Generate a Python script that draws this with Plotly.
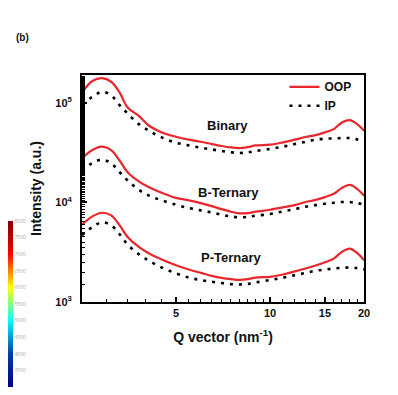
import math
import plotly.graph_objects as go

q = [2.5, 2.7, 2.9, 3.1, 3.3, 3.5, 3.8, 4.1, 4.5, 5, 5.5, 6, 6.5, 7, 7.5, 8, 8.5, 9,
     10, 11, 12, 13, 14, 15, 16, 17, 18, 19, 20]

binary_oop = [1.27e5, 1.66e5, 1.77e5, 1.63e5, 1.27e5, 8.98e4, 7.41e4, 5.89e4, 5.05e4, 4.57e4,
              4.27e4, 4.07e4, 3.86e4, 3.69e4, 3.57e4, 3.52e4, 3.60e4, 3.74e4, 3.80e4, 4.01e4,
              4.27e4, 4.54e4, 4.75e4, 5.05e4, 5.45e4, 6.36e4, 6.71e4, 6.12e4, 5.25e4]
binary_ip = [9.7e4, 1.15e5, 1.29e5, 1.19e5, 9.48e4, 7.82e4, 6.12e4, 5.25e4, 4.50e4, 3.98e4,
             3.74e4, 3.55e4, 3.41e4, 3.29e4, 3.19e4, 3.14e4, 3.19e4, 3.29e4, 3.44e4, 3.63e4,
             3.86e4, 4.07e4, 4.27e4, 4.37e4, 4.40e4, 4.43e4, 4.43e4, 4.30e4, 4.10e4]
bter_oop = [2.77e4, 3.36e4, 3.63e4, 3.36e4, 2.63e4, 2.01e4, 1.63e4, 1.42e4, 1.25e4, 1.11e4,
            1.05e4, 9.85e3, 9.19e3, 8.57e3, 8.07e3, 7.76e3, 7.82e3, 8.07e3, 8.45e3, 8.91e3,
            9.40e3, 1.01e4, 1.06e4, 1.13e4, 1.22e4, 1.40e4, 1.50e4, 1.37e4, 1.17e4]
bter_ip = [2.09e4, 2.49e4, 2.69e4, 2.47e4, 2.01e4, 1.66e4, 1.34e4, 1.17e4, 1.05e4, 9.48e3,
           8.78e3, 8.32e3, 7.94e3, 7.53e3, 7.24e3, 7.08e3, 7.19e3, 7.36e3, 7.64e3, 8.13e3,
           8.57e3, 9.05e3, 9.40e3, 9.70e3, 9.93e3, 1.01e4, 1.01e4, 9.85e3, 9.48e3]
pter_oop = [5.98e3, 7.24e3, 7.88e3, 7.41e3, 5.89e3, 4.50e3, 3.57e3, 3.07e3, 2.67e3, 2.34e3,
            2.12e3, 1.96e3, 1.83e3, 1.75e3, 1.70e3, 1.67e3, 1.70e3, 1.76e3, 1.79e3, 1.89e3,
            2.03e3, 2.17e3, 2.33e3, 2.51e3, 2.73e3, 3.19e3, 3.44e3, 3.11e3, 2.63e3]
pter_ip = [4.68e3, 5.67e3, 6.31e3, 5.89e3, 4.79e3, 3.77e3, 3.02e3, 2.59e3, 2.22e3, 1.94e3,
           1.76e3, 1.66e3, 1.60e3, 1.55e3, 1.51e3, 1.50e3, 1.52e3, 1.57e3, 1.66e3, 1.75e3,
           1.86e3, 1.96e3, 2.06e3, 2.12e3, 2.17e3, 2.20e3, 2.22e3, 2.19e3, 2.12e3]

sample_labels = ["Binary", "B-Ternary", "P-Ternary"]
label_q = [7.3, 7.35, 7.5]
label_i = [5.9e4, 1.26e4, 2.8e3]

x_tickvals = [5, 10, 15, 20]
x_ticktext = ["5", "10", "15", "20"]
y_tickvals = [1e3, 1e4, 1e5]
y_ticktext = ["10<sup>3</sup>", "10<sup>4</sup>", "10<sup>5</sup>"]
x_minor = [3, 3.5, 4, 4.5, 5.5, 6, 6.5, 7, 7.5, 8, 8.5, 9, 9.5, 11, 12, 13, 14, 16, 17, 18, 19]

cbar_vals = [3000, 8000]

RED = "#e8262b"
FONT = "Liberation Sans, Arial, sans-serif"

fig = go.Figure()
oop_sets = [binary_oop, bter_oop, pter_oop]
ip_sets = [binary_ip, bter_ip, pter_ip]
for i in range(3):
    fig.add_trace(go.Scatter(x=q, y=oop_sets[i], mode="lines", name="OOP",
                             line=dict(color=RED, width=2.2, shape="spline"),
                             showlegend=(i == 0)))
for i in range(3):
    fig.add_trace(go.Scatter(x=q, y=ip_sets[i], mode="lines", name="IP",
                             line=dict(color="black", width=2.6, dash="3px,6px", shape="spline"),
                             showlegend=(i == 0)))

# colour-bar fragment at far left
fig.add_trace(go.Scatter(x=[q[0], q[0]], y=[pter_ip[0], pter_ip[0]], mode="markers",
                         marker=dict(size=0.1, opacity=0, color=cbar_vals, colorscale="Jet",
                                     cmin=cbar_vals[0], cmax=cbar_vals[1], showscale=True,
                                     colorbar=dict(x=-0.2624, xanchor="left",
                                                   y=-0.375, yanchor="bottom",
                                                   lenmode="pixels", len=166, thickness=5,
                                                   outlinewidth=0, ticks="",
                                                   tickfont=dict(size=5, color="#aaaaaa"),
                                                   dtick=500, xpad=0, ypad=0)),
                         showlegend=False, hoverinfo="skip"))

for t, xq, yi in zip(sample_labels, label_q, label_i):
    fig.add_annotation(x=math.log10(xq), y=math.log10(yi), text=t, showarrow=False,
                       font=dict(family=FONT, size=13, color="#111111", weight="bold"))

fig.add_annotation(xref="paper", yref="paper", x=-0.241, y=1.167, text="(b)",
                   showarrow=False, xanchor="left", yanchor="middle",
                   font=dict(family=FONT, size=10, color="#111111", weight="bold"))

# thin dark border line at the right edge of the picture
fig.add_annotation(xref="paper", yref="paper", x=1.102, y=1.29, text="",
                   showarrow=True, arrowhead=0, arrowwidth=2, arrowcolor="#222222",
                   ax=0, ay=380, standoff=0, startstandoff=0)

fig.update_xaxes(type="log", range=[0.398, 1.301], tickvals=x_tickvals, ticktext=x_ticktext,
                 ticks="inside", ticklen=5, tickwidth=1.5, tickcolor="black",
                 showline=True, linecolor="black", linewidth=2, mirror=True,
                 showgrid=False, zeroline=False,
                 tickfont=dict(family=FONT, size=11, color="#111111", weight="bold"),
                 minor=dict(tickvals=x_minor, ticks="inside", ticklen=3, tickwidth=1.2,
                            tickcolor="black", showgrid=False),
                 title=dict(text="Q vector (nm<sup>-1</sup>)", standoff=14,
                            font=dict(family=FONT, size=14, color="#111111", weight="bold")))
fig.update_yaxes(type="log", range=[3, 5.28], tickvals=y_tickvals, ticktext=y_ticktext,
                 ticks="inside", ticklen=5, tickwidth=1.5, tickcolor="black",
                 showline=True, linecolor="black", linewidth=2, mirror=True,
                 showgrid=False, zeroline=False, ticklabelstandoff=6,
                 tickfont=dict(family=FONT, size=11, color="#111111", weight="bold"),
                 minor=dict(ticks="inside", ticklen=3, tickwidth=1.2, tickcolor="black",
                            showgrid=False),
                 title=dict(text="Intensity (a.u.)", standoff=10,
                            font=dict(family=FONT, size=14, color="#111111", weight="bold")))

# the page body adds an 8 px offset, so the figure is sized to fit the window from there
fig.update_layout(width=390, height=379,
                  margin=dict(l=74, r=34, t=67, b=85, autoexpand=False),
                  paper_bgcolor="white", plot_bgcolor="white",
                  legend=dict(x=0.718, y=1.012, xanchor="left", yanchor="top",
                              bgcolor="rgba(0,0,0,0)", tracegroupgap=0,
                              font=dict(family=FONT, size=12, color="#111111", weight="bold")),
                  showlegend=True)

fig.write_html("out.html")
